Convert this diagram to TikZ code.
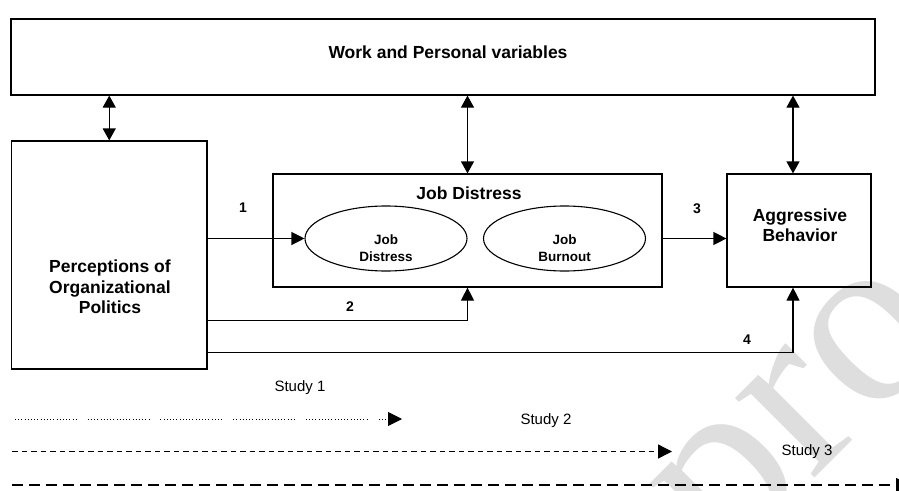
\documentclass[tikz,border=0pt]{standalone}
\usepackage{fontspec}
\setmainfont{Liberation Sans}
\newfontfamily\wmfont{Liberation Serif}
\usetikzlibrary{arrows.meta,shapes.geometric}
\begin{document}
\begin{tikzpicture}[x=1pt,y=-1pt,
  box/.style={draw=black,line width=1.2pt,rectangle,inner sep=0pt},
  oval/.style={draw=black,line width=1.1pt,ellipse,inner sep=0pt,minimum width=162pt,minimum height=65pt},
  big/.style={font=\fontsize{17.5}{20.5}\selectfont\bfseries,align=center,inner sep=0pt},
  small/.style={font=\fontsize{13.5}{17}\selectfont\bfseries,align=center,inner sep=0pt},
  num/.style={font=\fontsize{14}{16}\selectfont\bfseries,inner sep=0pt},
  study/.style={font=\fontsize{15}{17}\selectfont,inner sep=0pt},
  conn/.style={line width=1.2pt,-{Triangle[length=13pt,width=13pt]}},
  dbl/.style={line width=1.2pt,{Triangle[length=12pt,width=13pt]}-{Triangle[length=12pt,width=13pt]}},
  stip/.style={-{Triangle[length=14pt,width=14pt]}},
  watermark/.style={text=black!13,font=\wmfont\fontsize{245}{245}\selectfont,inner sep=0pt,rotate=45,anchor=base west}
]
\useasboundingbox (0,0) rectangle (899,490);
\clip (0,0) rectangle (899,490);
% watermark
\node[watermark] (wm) at (725,568) {proof};
% boxes
\node[box,minimum width=864pt,minimum height=76pt] (top) at (443,57) {};
\node[big] (toptxt) at (448,52) {Work and Personal variables};
\node[box,minimum width=195.5pt,minimum height=228pt] (pop) at (109.25,255) {};
\node[big] (poptxt) at (110,287) {Perceptions of\\Organizational\\Politics};
\node[box,minimum width=389pt,minimum height=113pt] (jd) at (467.5,230.5) {};
\node[big] (jdtxt) at (469,193) {Job Distress};
\node[oval] (e1) at (386,238.5) {};
\node[small] (e1txt) at (386,248) {Job\\Distress};
\node[oval] (e2) at (564.5,238.5) {};
\node[small] (e2txt) at (564.5,248) {Job\\Burnout};
\node[box,minimum width=144pt,minimum height=113pt] (agg) at (799,230.5) {};
\node[big] (aggtxt) at (800,225) {Aggressive\\Behavior};
% coordinates
\coordinate (a3) at (793,0);
\coordinate (c2) at (0,320.5);
\coordinate (c4) at (0,352.5);
% double arrows
\draw[dbl] (top.south -| pop.north) -- (pop.north);
\draw[dbl] (top.south -| jd.north) -- (jd.north);
\draw[dbl] (top.south -| a3) -- (agg.north -| a3);
% paths
\draw[conn] (pop.east |- e1.west) -- (e1.west);
\draw[conn] (pop.east |- c2) -| (jd.south);
\draw[conn] (jd.east |- e2.east) -- (agg.west |- e2.east);
\draw[conn] (pop.east |- c4) -| (agg.south -| a3);
% labels
\node[num] (n1) at (243,208) {1};
\node[num] (n2) at (350,307) {2};
\node[num] (n3) at (697,209) {3};
\node[num] (n4) at (747,340) {4};
% studies
\node[study] (s1) at (300,388) {Study 1};
\node[study] (s2) at (546,421) {Study 2};
\node[study] (s3) at (807,452) {Study 3};
\coordinate (s1a) at (15,419);
\coordinate (s1b) at (402,419);
\coordinate (s2a) at (12,451.5);
\coordinate (s2b) at (672,451.5);
\coordinate (s3a) at (12,485);
\coordinate (s3b) at (910,485);
\draw[stip,line width=0.9pt,dash pattern=on 0.9pt off 2.3pt on 0.9pt off 2.3pt on 0.9pt off 2.3pt on 0.9pt off 2.3pt on 0.9pt off 2.3pt on 0.9pt off 2.3pt on 0.9pt off 2.3pt on 0.9pt off 2.3pt on 0.9pt off 2.3pt on 0.9pt off 2.3pt on 0.9pt off 2.3pt on 0.9pt off 2.3pt on 0.9pt off 2.3pt on 0.9pt off 2.3pt on 0.9pt off 2.3pt on 0.9pt off 2.3pt on 0.9pt off 2.3pt on 0.9pt off 2.3pt on 0.9pt off 2.3pt on 0.9pt off 11pt] (s1a) -- (s1b);
\draw[stip,line width=1.4pt,dash pattern=on 5.5pt off 4pt] (s2a) -- (s2b);
\draw[stip,line width=1.4pt,dash pattern=on 11pt off 6pt] (s3a) -- (s3b);
\end{tikzpicture}
\end{document}
